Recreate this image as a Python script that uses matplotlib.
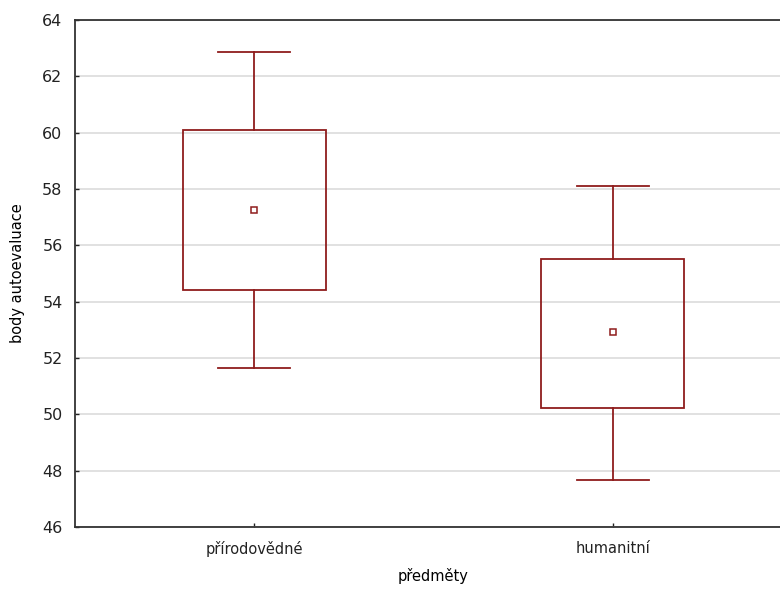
import matplotlib.pyplot as plt
import numpy as np

# skupiny předmětů a jejich statistiky (průměr, box, whiskery)
skupiny = ['přírodovědné', 'humanitní']
prumer = [57.27, 52.92]
box_dolni = [54.42, 50.21]
box_horni = [60.10, 55.53]
whisk_dolni = [51.65, 47.66]
whisk_horni = [62.86, 58.10]

barva = '#8f1c1c'

fig = plt.figure(figsize=(7.8, 5.92), dpi=100)
ax = fig.add_axes([75/780, 65/592, 717/780, 507/592])

x = np.arange(1, len(skupiny) + 1)
for i, xi in enumerate(x):
    # box
    ax.add_patch(plt.Rectangle((xi - 0.2, box_dolni[i]), 0.4,
                               box_horni[i] - box_dolni[i],
                               fill=False, edgecolor=barva, lw=1.3, zorder=3))
    # whiskery
    ax.plot([xi, xi], [box_horni[i], whisk_horni[i]], color=barva, lw=1.3, zorder=3)
    ax.plot([xi, xi], [whisk_dolni[i], box_dolni[i]], color=barva, lw=1.3, zorder=3)
    ax.plot([xi - 0.1, xi + 0.1], [whisk_horni[i], whisk_horni[i]], color=barva, lw=1.3, zorder=3)
    ax.plot([xi - 0.1, xi + 0.1], [whisk_dolni[i], whisk_dolni[i]], color=barva, lw=1.3, zorder=3)

# průměry
ax.plot(x, prumer, 's', ms=4, mfc='white', mec=barva, mew=1.1, zorder=4)

ax.set_xlim(0.5, 2.5)
ax.set_ylim(46, 64)
ax.set_yticks(np.arange(46, 65, 2))
ax.set_xticks(x)
ax.set_xticklabels(skupiny, fontsize=10.5)
ax.yaxis.grid(True, color='#dcdcdc', lw=1.2)
ax.set_axisbelow(True)

for s in ax.spines.values():
    s.set_color('#333333')
    s.set_linewidth(1.3)

ax.tick_params(direction='in', length=3, width=1, colors='#222222')
ax.tick_params(axis='y', labelsize=11.5, pad=9)
ax.tick_params(axis='x', pad=10)

ax.set_ylabel('body autoevaluace', fontsize=10.5, labelpad=12)
ax.set_xlabel('předměty', fontsize=10.5, labelpad=8)

fig.savefig('out.png', dpi=100)
